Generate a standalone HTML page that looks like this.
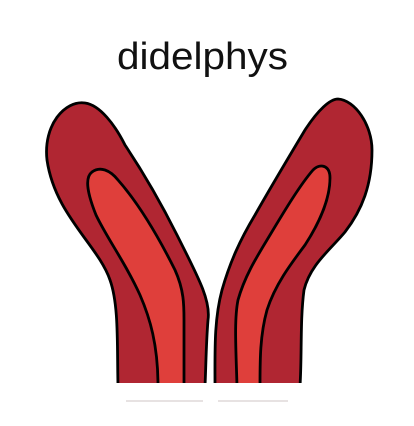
<!DOCTYPE html>
<html><head><meta charset="utf-8"><style>
html,body{margin:0;padding:0;background:#fff;}
svg{display:block;}
</style></head><body>
<svg width="414" height="426" viewBox="0 0 414 426">
<text x="117" y="69" font-family="Liberation Sans, sans-serif" font-size="38" fill="#111" textLength="171" lengthAdjust="spacingAndGlyphs">didelphys</text>
<g stroke="#000" stroke-width="2.8" stroke-linejoin="round">
<path fill="#b02632" d="M118,386 C117,345 119,305 110,280 C98,245 55,215 47,160 C43,125 65,100 85,103 C100,105 115,125 125,145 C145,175 162,205 177,235 C197,275 211,300 208,320 C206,345 206,365 205,386 Z"/>
<path fill="#df3f3b" d="M158,386 C158,345 150,318 140,295 C125,262 108,240 96,215 C88,195 84,178 92,172 C100,166 110,170 118,180 C140,205 160,240 175,270 C184,290 184,305 184,320 L184,386 Z"/>
<path fill="#b02632" d="M215,386 C215,350 214,320 222,290 C230,262 240,240 255,215 C272,185 290,155 305,130 C318,110 330,99 338,99 C355,100 372,125 372,150 C372,185 362,210 345,232 C330,250 310,265 304,290 C300,320 302,355 300,386 Z"/>
<path fill="#df3f3b" d="M237,386 C236,350 234,320 238,300 C245,275 258,255 270,235 C285,210 300,185 313,170 C320,163 330,165 330,178 C330,200 318,225 305,245 C290,265 275,285 267,310 C260,335 260,360 260,386 Z"/>
</g>
<rect x="100" y="383" width="220" height="12" fill="#fff"/>
<line x1="126" y1="401" x2="203" y2="401" stroke="#cfc4c6" stroke-width="1"/>
<line x1="218" y1="401" x2="288" y2="401" stroke="#cfc4c6" stroke-width="1"/>
</svg>
</body></html>
